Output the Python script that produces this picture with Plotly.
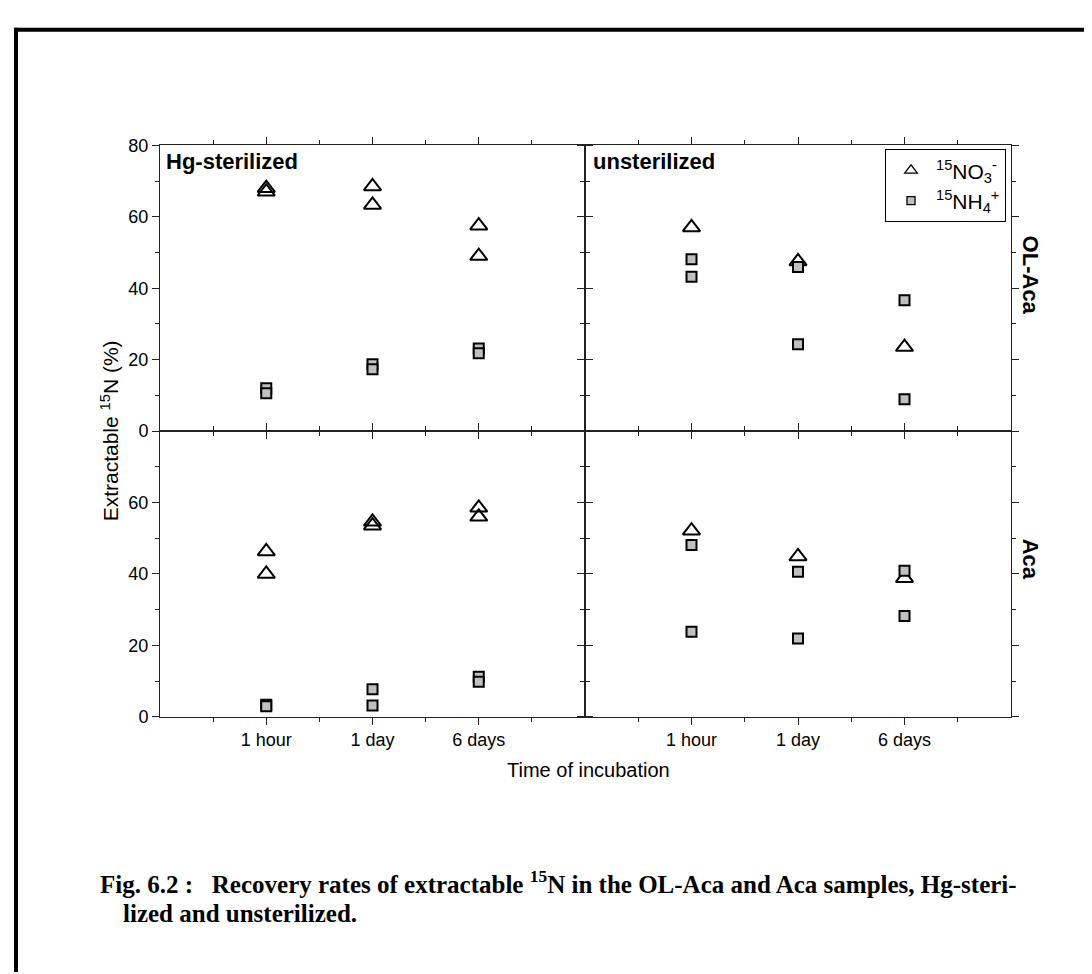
import plotly.graph_objects as go

W, H = 1092, 974

# ---------------- data ----------------
time_labels = ["1 hour", "1 day", "6 days"]

# OL-Aca, Hg-sterilized
hg_ol_no3_x = [1, 1, 2, 2, 3, 3]
hg_ol_no3_y = [68.0, 67.0, 68.5, 63.3, 57.5, 49.0]
hg_ol_nh4_x = [1, 1, 2, 2, 3, 3]
hg_ol_nh4_y = [12.0, 10.6, 18.7, 17.3, 23.1, 21.8]

# OL-Aca, unsterilized
un_ol_no3_x = [1, 2, 3]
un_ol_no3_y = [57.0, 47.5, 23.5]
un_ol_nh4_x = [1, 1, 2, 2, 3, 3]
un_ol_nh4_y = [48.1, 43.2, 45.9, 24.3, 36.6, 8.9]

# Aca, Hg-sterilized
hg_aca_no3_x = [1, 1, 2, 2, 3, 3]
hg_aca_no3_y = [46.3, 40.0, 54.6, 53.5, 58.5, 56.0]
hg_aca_nh4_x = [1, 1, 2, 2, 3, 3]
hg_aca_nh4_y = [3.4, 3.0, 7.7, 3.2, 11.2, 9.8]

# Aca, unsterilized
un_aca_no3_x = [1, 2, 3]
un_aca_no3_y = [52.1, 44.9, 38.8]
un_aca_nh4_x = [1, 1, 2, 2, 3, 3]
un_aca_nh4_y = [48.1, 23.8, 40.6, 21.9, 40.9, 28.2]

no3_name = "<sup>15</sup>NO<sub>3</sub><sup>-</sup>"
nh4_name = "<sup>15</sup>NH<sub>4</sub><sup>+</sup>"


def px(x):
    return x / W


def py(y):
    return 1 - y / H


FONT = "Liberation Sans, Arial, sans-serif"
SERIF = "Liberation Serif, Times New Roman, serif"

tri_marker = dict(symbol="triangle-up-open", size=15, color="black", line=dict(width=2, color="black"))
sq_marker = dict(symbol="square", size=10, color="#c0c0c0", line=dict(width=2, color="black"))

fig = go.Figure()

panels = [
    ("x", "y", hg_ol_no3_x, hg_ol_no3_y, hg_ol_nh4_x, hg_ol_nh4_y),
    ("x2", "y2", un_ol_no3_x, un_ol_no3_y, un_ol_nh4_x, un_ol_nh4_y),
    ("x3", "y3", hg_aca_no3_x, hg_aca_no3_y, hg_aca_nh4_x, hg_aca_nh4_y),
    ("x4", "y4", un_aca_no3_x, un_aca_no3_y, un_aca_nh4_x, un_aca_nh4_y),
]
for xa, ya, tx, ty, sx, sy in panels:
    fig.add_trace(go.Scatter(x=tx, y=ty, mode="markers", marker=tri_marker,
                             xaxis=xa, yaxis=ya, showlegend=False, cliponaxis=False))
    fig.add_trace(go.Scatter(x=sx, y=sy, mode="markers", marker=sq_marker,
                             xaxis=xa, yaxis=ya, showlegend=False, cliponaxis=False))

# legend entries (smaller symbols, as in the reference legend)
fig.add_trace(go.Scatter(x=[None], y=[None], mode="markers", name=no3_name, xaxis="x2", yaxis="y2",
                         marker=dict(symbol="triangle-up-open", size=11, color="black", line=dict(width=1.3))))
fig.add_trace(go.Scatter(x=[None], y=[None], mode="markers", name=nh4_name, xaxis="x2", yaxis="y2",
                         marker=dict(symbol="square", size=8, color="#c0c0c0", line=dict(width=1.3, color="black"))))

XL = [px(152), px(577)]
XR = [px(577), px(1003)]
YT = [py(421.7), py(130)]
YB = [py(713.5), py(421.7)]

LINEC = "#222222"


def xaxis(domain, anchor, labels):
    return dict(domain=domain, anchor=anchor, range=[0, 4],
                tickmode="array", tickvals=[1, 2, 3], ticktext=time_labels,
                showticklabels=labels, ticks="outside", ticklen=7, tickwidth=1, tickcolor=LINEC,
                minor=dict(tickmode="array", tickvals=[0.5, 1.5, 2.5, 3.5], ticks="outside",
                           ticklen=4, tickcolor=LINEC, showgrid=False),
                showline=True, linecolor=LINEC, linewidth=1, mirror="ticks",
                showgrid=False, zeroline=False, fixedrange=True,
                tickfont=dict(family=FONT, size=18, color="black"))


def yaxis(domain, anchor, labels, vals):
    return dict(domain=domain, anchor=anchor, range=[0, 80],
                tickmode="array", tickvals=vals,
                showticklabels=labels, ticks="outside", ticklen=7, tickwidth=1, tickcolor=LINEC,
                minor=dict(tickmode="array", tickvals=[10, 30, 50, 70], ticks="outside",
                           ticklen=4, tickcolor=LINEC, showgrid=False),
                showline=True, linecolor=LINEC, linewidth=1, mirror="ticks",
                showgrid=False, zeroline=False, fixedrange=True,
                tickfont=dict(family=FONT, size=18, color="black"))


fig.update_layout(
    width=W, height=H,
    margin=dict(l=0, r=0, t=0, b=0),
    paper_bgcolor="white", plot_bgcolor="white",
    xaxis=xaxis(XL, "y", False),
    xaxis2=xaxis(XR, "y2", False),
    xaxis3=xaxis(XL, "y3", True),
    xaxis4=xaxis(XR, "y4", True),
    yaxis=yaxis(YT, "x", True, [0, 20, 40, 60, 80]),
    yaxis2=yaxis(YT, "x2", False, [0, 20, 40, 60, 80]),
    yaxis3=yaxis(YB, "x3", True, [0, 20, 40, 60]),
    yaxis4=yaxis(YB, "x4", False, [0, 20, 40, 60]),
    legend=dict(x=px(998), y=py(134), xanchor="right", yanchor="top",
                bgcolor="white", bordercolor="black", borderwidth=1,
                font=dict(family=FONT, size=21, color="black"),
                tracegroupgap=0, itemwidth=40),
    showlegend=True,
)

annots = [
    dict(text="<b>Hg-sterilized</b>", x=px(156), y=py(132), xanchor="left", yanchor="top",
         font=dict(family=FONT, size=22, color="black")),
    dict(text="<b>unsterilized</b>", x=px(583), y=py(132), xanchor="left", yanchor="top",
         font=dict(family=FONT, size=22, color="black")),
    dict(text="<b>OL-Aca</b>", x=px(1022), y=py(262), textangle=90, xanchor="center", yanchor="middle",
         font=dict(family=FONT, size=22, color="black")),
    dict(text="<b>Aca</b>", x=px(1022), y=py(552), textangle=90, xanchor="center", yanchor="middle",
         font=dict(family=FONT, size=22, color="black")),
    dict(text="Extractable <sup>15</sup>N (%)", x=px(102), y=py(422), textangle=-90,
         xanchor="center", yanchor="middle", font=dict(family=FONT, size=21, color="black")),
    dict(text="Time of incubation", x=px(580), y=py(768), xanchor="center", yanchor="middle",
         font=dict(family=FONT, size=20, color="black")),
    dict(text="<b>Fig. 6.2 :   Recovery rates of extractable <sup>15</sup>N in the OL-Aca and Aca samples, Hg-steri-</b>",
         x=px(90), y=py(882), xanchor="left", yanchor="middle",
         font=dict(family=SERIF, size=25, color="black")),
    dict(text="<b>lized and unsterilized.</b>", x=px(113), y=py(914), xanchor="left", yanchor="middle",
         font=dict(family=SERIF, size=25, color="black")),
]
for a in annots:
    a.update(xref="paper", yref="paper", showarrow=False)
fig.update_layout(annotations=annots)

# page frame (left and top edges)
fig.update_layout(shapes=[
    dict(type="line", xref="paper", yref="paper", x0=px(8), x1=px(8), y0=0, y1=py(10),
         line=dict(color="black", width=4)),
    dict(type="line", xref="paper", yref="paper", x0=px(6), x1=1, y0=py(12), y1=py(12),
         line=dict(color="black", width=4)),
])

fig.write_html("out.html")
